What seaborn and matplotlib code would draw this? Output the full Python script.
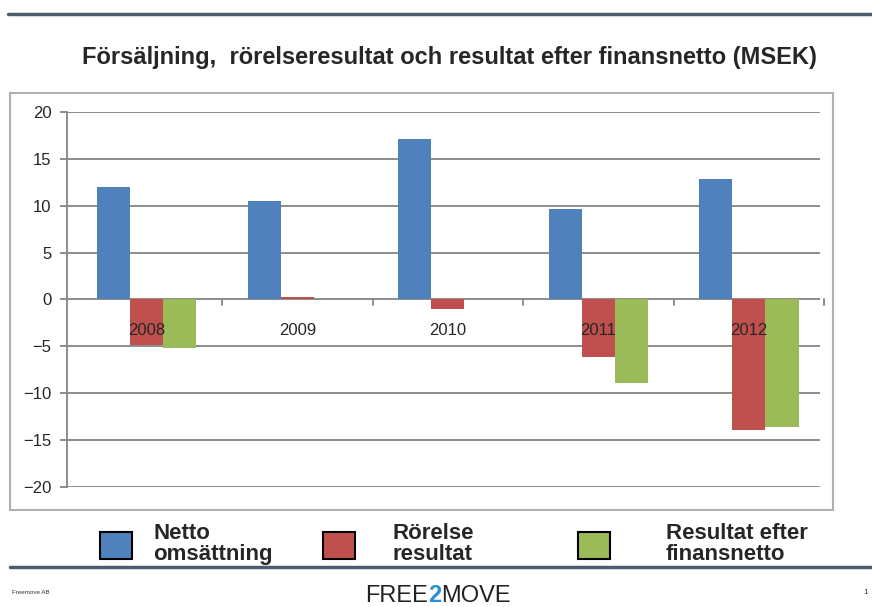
import matplotlib.pyplot as plt
import numpy as np
import pandas as pd
import seaborn as sns
from matplotlib.patches import Rectangle
from matplotlib.lines import Line2D

years = ['2008', '2009', '2010', '2011', '2012']
series = ['Netto\nomsättning', 'Rörelse\nresultat', 'Resultat efter\nfinansnetto']
netto = [12.0, 10.5, 17.1, 9.7, 12.9]
rorelse = [-4.9, 0.3, -1.0, -6.1, -13.9]
resultat = [-5.2, 0.0, 0.0, -8.9, -13.6]
colors = ['#4F81BD', '#C0504D', '#9BBB59']
title = 'Försäljning,  rörelseresultat och resultat efter finansnetto (MSEK)'

df = pd.DataFrame({
    'year': years * 3,
    'series': np.repeat(series, len(years)),
    'value': netto + rorelse + resultat,
})

sns.set_style('white')
plt.rcParams['font.family'] = ['Liberation Sans', 'DejaVu Sans']

fig = plt.figure(figsize=(8.72, 6.07), dpi=100)
ax = fig.add_axes([0.0768, 0.1977, 0.8632, 0.6178])

sns.barplot(data=df, x='year', y='value', hue='series', palette=colors,
            saturation=1, width=0.66, linewidth=0, ax=ax, zorder=1)

grid = '#8c8c8c'
ax.set_ylim(-20, 20)
ax.set_xlim(-0.53, 4.47)
ax.set_yticks(range(-20, 21, 5))
ax.grid(False)
for y in ax.get_yticks():
    ax.axhline(y, color=grid, lw=1.4, zorder=0.5)
ax.set_axisbelow(False)  # tick labels drawn above the bars
ax.set_xticks(range(5))
ax.tick_params(axis='x', which='major', length=0, pad=17, labelsize=12)
ax.tick_params(axis='y', length=5, color=grid, width=1.4, labelsize=12,
               left=True, pad=6)
for s in ['top', 'right', 'bottom']:
    ax.spines[s].set_visible(False)
ax.spines['bottom'].set_position(('data', 0))
ax.spines['left'].set_color(grid)
ax.spines['left'].set_linewidth(1.4)
ax.set_xlabel('')
ax.set_ylabel('')

# category separator ticks on the zero line
for x in np.arange(0.5, 5, 1):
    ax.plot([x, x], [0, -0.55], color=grid, lw=1.4, zorder=0.6, clip_on=False)

handles, labels = ax.get_legend_handles_labels()
ax.get_legend().remove()
legend_x = [100 / 872, 323 / 872, 578 / 872]
text_pad = [0.95, 1.67, 2.5]
for h, lab, x, pad in zip(handles, labels, legend_x, text_pad):
    leg = fig.legend([h], [lab], loc='center left', bbox_to_anchor=(x, 0.103),
                     frameon=False, borderpad=0, borderaxespad=0,
                     handlelength=1.44, handleheight=1.5, handletextpad=pad,
                     prop={'weight': 'bold', 'size': 16})
    for p in leg.get_patches():
        p.set_edgecolor('black')
        p.set_linewidth(1.5)
    for t in leg.get_texts():
        t.set_linespacing(1.0)

# chart frame
fig.patches.append(Rectangle((10 / 872, 1 - 510 / 607), 823 / 872, 417 / 607,
                             transform=fig.transFigure, fill=False,
                             edgecolor='#b0b0b0', lw=1.5, zorder=0))

fig.text(0.515, 0.905, title, ha='center', va='center', fontsize=17,
         fontweight='bold')

# slide decorations
line_col = '#4d5b6e'
fig.add_artist(Line2D([8 / 872, 1], [1 - 14 / 607] * 2, color=line_col, lw=2.5))
fig.add_artist(Line2D([10 / 872, 1], [1 - 567 / 607] * 2, color=line_col, lw=2.5))
fig.text(12 / 872, 1 - 593 / 607, 'Freemove AB', fontsize=4.5, va='center',
         color='#333333')
t1 = fig.text(365 / 872, 1 - 602 / 607, 'FREE', fontsize=17, va='baseline',
              color='#222222')
t2 = plt.annotate('2', xy=(1, 0), xycoords=t1, va='bottom', fontsize=17,
                  fontweight='bold', color='#2a8fd0')
plt.annotate('MOVE', xy=(1, 0), xycoords=t2, va='bottom', fontsize=17,
             color='#222222')
fig.text(0.99, 1 - 593 / 607, '1', fontsize=6, va='center', ha='left',
         color='#333333')

fig.savefig('out.png', dpi=100)
